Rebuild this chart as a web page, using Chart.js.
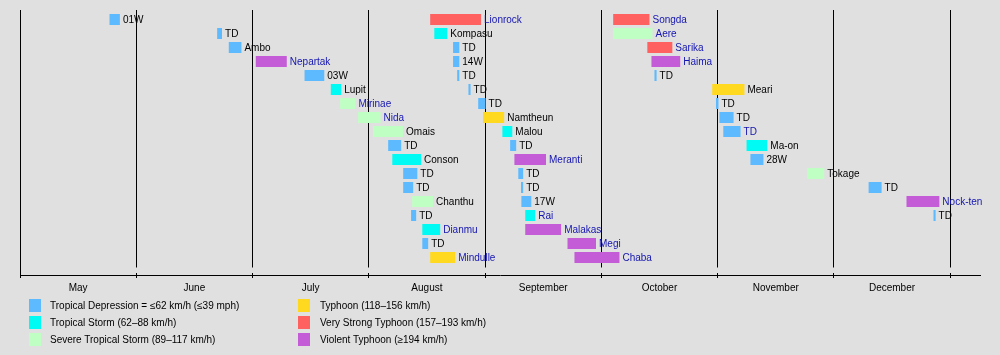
<!DOCTYPE html>
<html>
<head>
<meta charset="utf-8">
<script src="https://cdn.jsdelivr.net/npm/chart.js@4/dist/chart.umd.min.js"></script>
<style>
  html, body { margin: 0; padding: 0; background: #e0e0e0; }
  #wrap { position: relative; width: 1000px; height: 355px; overflow: hidden; }
  #c { position: absolute; left: 0; top: 0; }
  .lg { position: absolute; font: 10px "Liberation Sans", Arial, sans-serif; color: #000; white-space: nowrap; line-height: 13px; }
  .sw { position: absolute; width: 12px; height: 13px; }
</style>
</head>
<body>
<div id="wrap">
  <canvas id="c" width="1000" height="355"></canvas>
  <div id="legend"></div>
</div>
<script>
// ---- data ----
const monthNames = ['May', 'June', 'July', 'August', 'September', 'October', 'November', 'December'];
const monthDays = [31, 30, 31, 31, 30, 31, 30, 31];

const categories = ['TD', 'TS', 'STS', 'TY', 'VSTY', 'VITY'];
const categoryLabels = [
  'Tropical Depression = ≤62 km/h (≤39 mph)',
  'Tropical Storm (62–88 km/h)',
  'Severe Tropical Storm (89–117 km/h)',
  'Typhoon (118–156 km/h)',
  'Very Strong Typhoon (157–193 km/h)',
  'Violent Typhoon (≥194 km/h)'
];
const categoryColors = ['#5ebaff', '#00faf4', '#c0ffc4', '#ffd820', '#ff6060', '#c45cd8'];

const stormNames = ['01W','TD','Ambo','Nepartak','03W','Lupit','Mirinae','Nida','Omais','TD',
  'Conson','TD','TD','Chanthu','TD','Dianmu','TD','Mindulle','Lionrock','Kompasu',
  'TD','14W','TD','TD','TD','Namtheun','Malou','TD','Meranti','TD',
  'TD','17W','Rai','Malakas','Megi','Chaba','Songda','Aere','Sarika','Haima',
  'TD','Meari','TD','TD','TD','Ma-on','28W','Tokage','TD','Nock-ten','TD'];
const stormRows = [0,1,2,3,4,5,6,7,8,9,
  10,11,12,13,14,15,16,17,0,1,
  2,3,4,5,6,7,8,9,10,11,
  12,13,14,15,16,17,0,1,2,3,
  4,5,6,7,8,9,10,11,12,13,14];
const stormCats = ['TD','TD','TD','VITY','TD','TS','STS','STS','STS','TD',
  'TS','TD','TD','STS','TD','TS','TD','TY','VSTY','TS',
  'TD','TD','TD','TD','TD','TY','TS','TD','VITY','TD',
  'TD','TD','TS','VITY','VITY','VITY','VSTY','STS','VSTY','VITY',
  'TD','TY','TD','TD','TD','TS','TD','STS','TD','VITY','TD'];
const stormStart = ['05-25','06-22','06-25','07-02','07-15','07-22','07-24.5','07-29.3','08-02.3','08-06.3',
  '08-07.4','08-10.3','08-10.3','08-12.7','08-12.4','08-15.4','08-15.4','08-17.5','08-17.5','08-18.6',
  '08-23.6','08-23.6','08-24.7','08-27.7','08-30.3','08-31.6','09-05.6','09-07.6','09-08.7','09-09.7',
  '09-10.4','09-10.5','09-11.5','09-11.5','09-22.4','09-24.2','10-04.3','10-04.3','10-13.4','10-14.5',
  '10-15.3','10-30.7','10-31.7','11-01.6','11-02.6','11-08.6','11-09.6','11-24.3','12-10.4','12-20.5','12-27.7'];
const stormEnd = ['05-27.5','06-23','06-28','07-10','07-20','07-24.5','07-28.3','08-04','08-10','08-09.5',
  '08-14.8','08-13.8','08-12.7','08-18','08-13.5','08-19.9','08-16.7','08-23.9','08-30.8','08-21.8',
  '08-25','08-25','08-25','08-28','09-01','09-05.8','09-07.9','09-08.9','09-16.6','09-10.7',
  '09-10.7','09-12.8','09-13.8','09-20.5','09-29.5','10-05.7','10-13.7','10-14.5','10-19.8','10-21.9',
  '10-15.6','11-07.8','11-01.1','11-05','11-06.8','11-13.7','11-12.7','11-28.4','12-13.6','12-29','12-28'];
const stormLinked = [0,0,0,1,0,0,1,1,0,0,
  0,0,0,0,0,1,0,1,1,0,
  0,0,0,0,0,0,0,0,1,0,
  0,0,1,1,1,1,1,1,1,1,
  0,0,0,0,1,0,0,0,0,1,0];

// ---- helpers ----
function toX(s) {
  const [m, d] = s.split('-');
  const mi = parseInt(m, 10) - 5;
  return mi + (parseFloat(d) - 1) / monthDays[mi];
}

const datasets = categories.map((cat, ci) => ({
  label: categoryLabels[ci],
  backgroundColor: categoryColors[ci],
  borderWidth: 0,
  grouped: false,
  barThickness: 10,
  inflateAmount: 0.5,
  data: stormNames.map((n, i) => ({ x: [toX(stormStart[i]), toX(stormEnd[i])], y: stormRows[i], name: n, link: stormLinked[i] }))
                  .filter((d, i) => stormCats[i] === cat)
}));

const BG = '#e0e0e0';

const labelPlugin = {
  id: 'stormLabels',
  beforeDatasetsDraw(chart) {
    const ctx = chart.ctx, a = chart.chartArea;
    ctx.save();
    ctx.fillStyle = BG;
    ctx.fillRect(a.left + 1.5, a.bottom - 7.5, a.right - a.left, 5.5);
    ctx.restore();
  },
  afterDatasetsDraw(chart) {
    const ctx = chart.ctx;
    ctx.save();
    ctx.font = '10px "Liberation Sans", Arial, sans-serif';
    ctx.textBaseline = 'middle';
    ctx.textAlign = 'left';
    chart.data.datasets.forEach((ds, di) => {
      const meta = chart.getDatasetMeta(di);
      meta.data.forEach((el, i) => {
        const d = ds.data[i];
        const end = Math.max(el.x, el.base);
        ctx.fillStyle = d.link ? '#1414b0' : '#000000';
        ctx.fillText(d.name, end + 3.5, el.y + 0.5);
      });
    });
    ctx.restore();
  }
};

Chart.defaults.font.family = '"Liberation Sans", Arial, sans-serif';
Chart.defaults.font.size = 10;
Chart.defaults.color = '#000';

new Chart(document.getElementById('c'), {
  type: 'bar',
  data: { datasets },
  plugins: [labelPlugin],
  options: {
    indexAxis: 'y',
    responsive: false,
    animation: false,
    devicePixelRatio: 1,
    layout: { padding: { left: 20, right: 20, top: 10, bottom: 0 } },
    plugins: { legend: { display: false }, tooltip: { enabled: false } },
    scales: {
      y: {
        type: 'linear', reverse: true, min: -0.68, max: 18.25, display: false, offset: false
      },
      x: {
        type: 'linear', position: 'bottom', min: 0, max: 8.257, offset: false,
        afterBuildTicks: (s) => {
          const t = [];
          for (let v = 0; v <= 8; v += 0.5) t.push({ value: v });
          s.ticks = t;
        },
        afterFit: (s) => { s.height = 80; },
        grid: {
          color: (c) => (c.tick && c.tick.value % 1 === 0) ? '#000' : 'rgba(0,0,0,0)',
          tickColor: (c) => (c.tick && c.tick.value % 1 === 0) ? '#000' : 'rgba(0,0,0,0)',
          lineWidth: 1,
          tickLength: 3,
          drawOnChartArea: true
        },
        border: { display: true, color: '#000', width: 1 },
        ticks: {
          autoSkip: false, maxRotation: 0, padding: 4,
          callback: (v) => (v % 1 === 0.5) ? monthNames[Math.floor(v)] : ''
        }
      }
    }
  }
});

// ---- legend ----
const lg = document.getElementById('legend');
categoryLabels.forEach((txt, i) => {
  const col = Math.floor(i / 3), row = i % 3;
  const sx = col === 0 ? 29 : 298, tx = col === 0 ? 50 : 320;
  const y = 299 + row * 17;
  const sw = document.createElement('div');
  sw.className = 'sw';
  sw.style.left = sx + 'px'; sw.style.top = y + 'px';
  sw.style.background = categoryColors[i];
  lg.appendChild(sw);
  const t = document.createElement('div');
  t.className = 'lg';
  t.style.left = tx + 'px'; t.style.top = (y) + 'px';
  t.textContent = txt;
  lg.appendChild(t);
});
</script>
</body>
</html>
